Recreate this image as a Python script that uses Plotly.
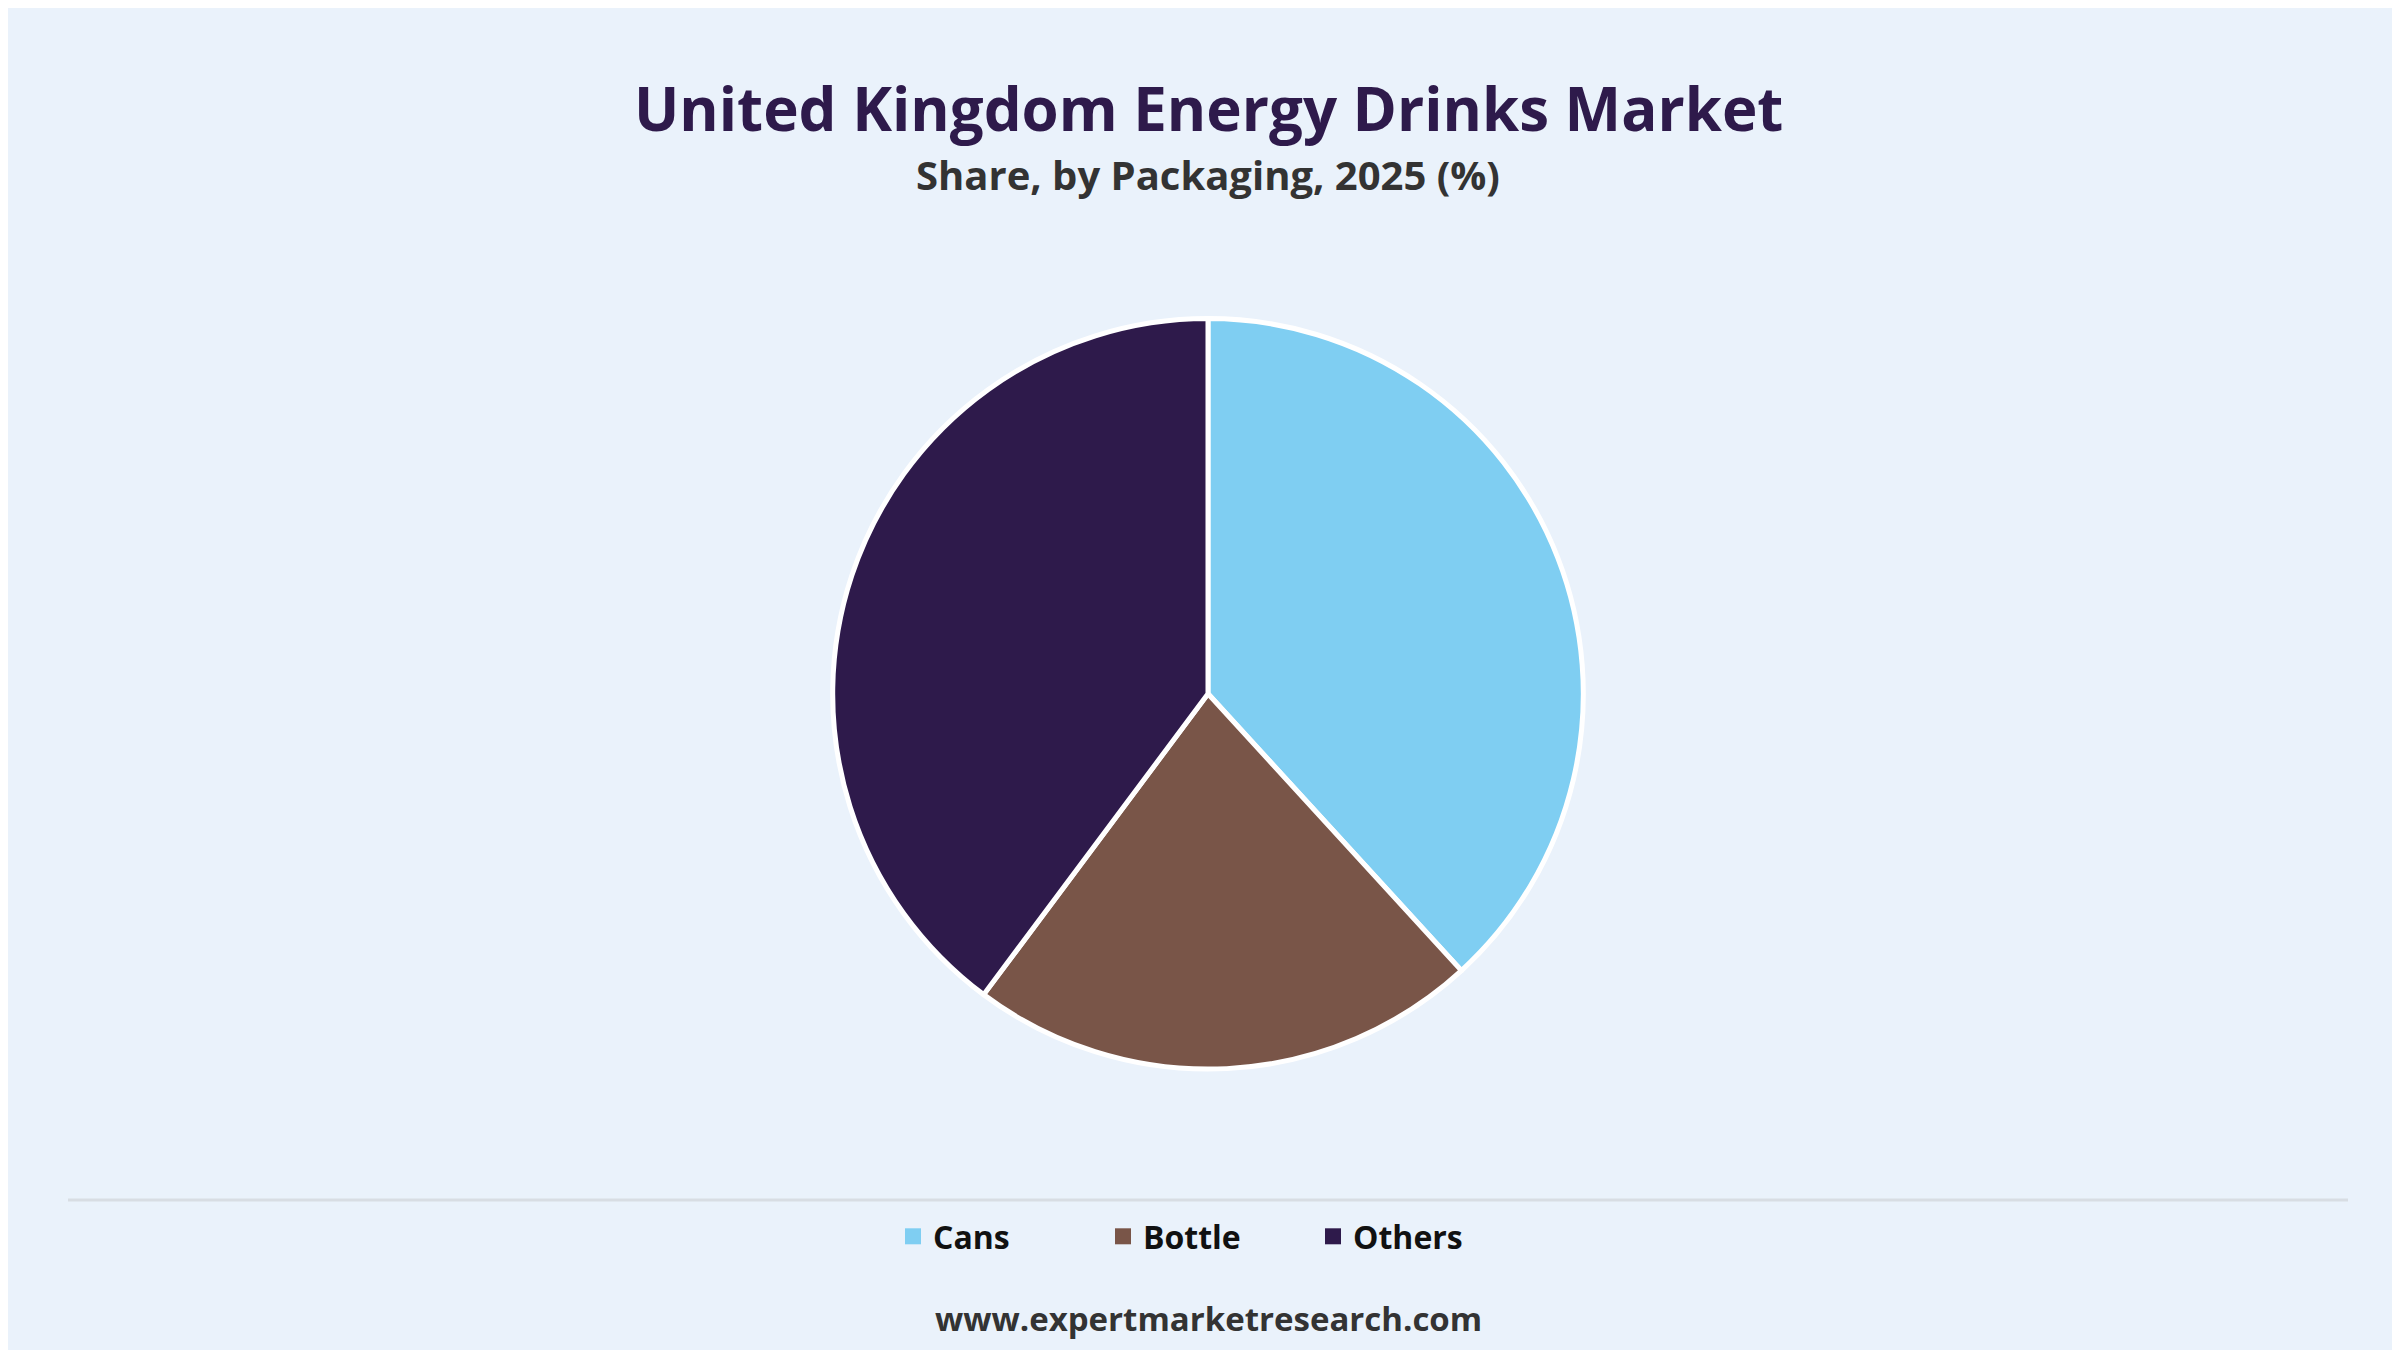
import plotly.graph_objects as go

labels = ["Cans", "Bottle", "Others"]
shares = [38.2, 22.0, 39.8]
colors = ["#7FCEF2", "#795548", "#2E1A4B"]

fig = go.Figure(go.Pie(
    labels=labels, values=shares, sort=False, direction="clockwise", rotation=0,
    marker=dict(colors=colors, line=dict(color="white", width=5)),
    textinfo="none", hoverinfo="label+percent", showlegend=False,
    domain=dict(x=[0, 1], y=[0.214, 0.770]),
))

# legend entries with square swatches
for name, col in zip(labels, colors):
    fig.add_trace(go.Scatter(x=[None], y=[None], mode="markers", name=name,
                             marker=dict(symbol="square", size=32, color=col)))

fig.update_xaxes(visible=False)
fig.update_yaxes(visible=False)

fig.update_layout(
    width=2400, height=1350,
    paper_bgcolor="#EAF2FB", plot_bgcolor="#EAF2FB",
    margin=dict(l=0, r=0, t=0, b=0),
    showlegend=True,
    legend=dict(orientation="h", x=0.5, xanchor="center", y=0.09, yanchor="middle",
                font=dict(family="Open Sans", size=32, color="#111111", weight="bold"),
                entrywidth=165, entrywidthmode="pixels", bgcolor="rgba(0,0,0,0)"),
    shapes=[dict(type="line", xref="paper", yref="paper", x0=0.025, x1=0.975,
                 y0=0.117, y1=0.117, line=dict(color="#D8DDE3", width=3))],
    annotations=[
        dict(text="<b>United Kingdom Energy Drinks Market</b>", x=0.5, y=0.926,
             xref="paper", yref="paper", showarrow=False, yanchor="middle",
             font=dict(family="Open Sans", size=60, color="#2E1A4B")),
        dict(text="<b>Share, by Packaging, 2025 (%)</b>", x=0.5, y=0.877,
             xref="paper", yref="paper", showarrow=False, yanchor="middle",
             font=dict(family="Open Sans", size=40, color="#333333")),
        dict(text="<b>www.expertmarketresearch.com</b>", x=0.5, y=0.029,
             xref="paper", yref="paper", showarrow=False, yanchor="middle",
             font=dict(family="Open Sans", size=33, color="#333333")),
    ],
)

fig.write_html("out.html")
